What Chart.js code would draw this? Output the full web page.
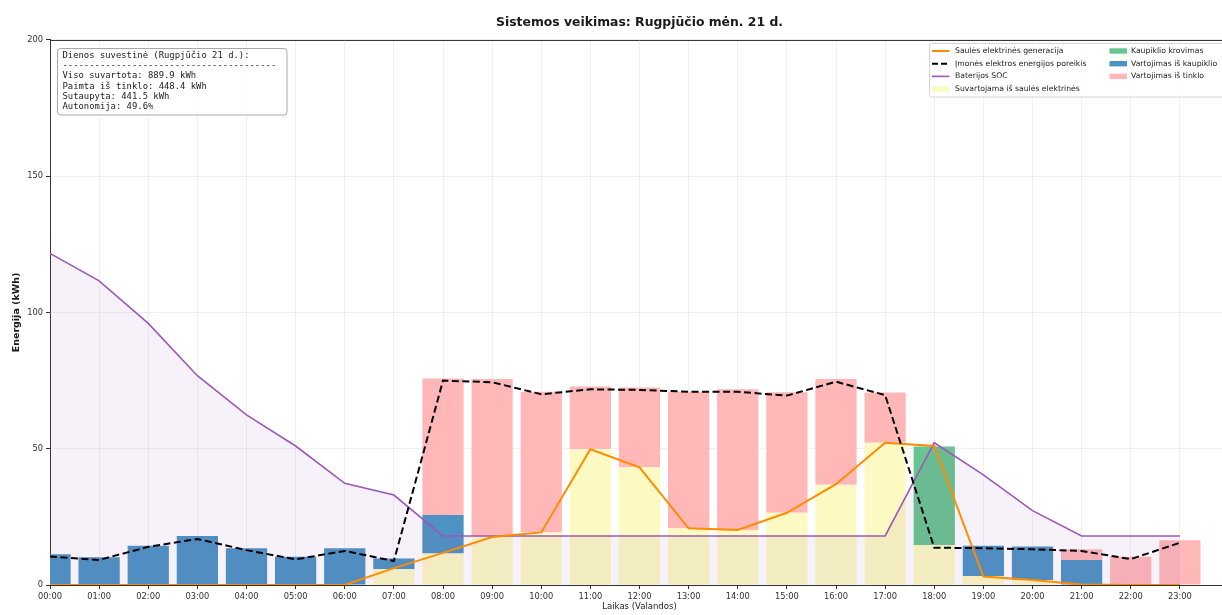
<!DOCTYPE html>
<html>
<head>
<meta charset="utf-8">
<script src="https://cdn.jsdelivr.net/npm/chart.js@4.4.1/dist/chart.umd.min.js"></script>
<style>
html,body{margin:0;padding:0;overflow:hidden;background:#fff;width:1222px;height:615px}
#wrap{position:absolute;left:0;top:0;width:1232px;height:615px}
</style>
</head>
<body>
<div id="wrap"><canvas id="c" width="1232" height="615"></canvas></div>
<script>
// ---- data ----
const hours = ["00:00","01:00","02:00","03:00","04:00","05:00","06:00","07:00","08:00","09:00","10:00","11:00",
               "12:00","13:00","14:00","15:00","16:00","17:00","18:00","19:00","20:00","21:00","22:00","23:00"];
const solarGeneration = [0,0,0,0,0,0,0,6.2,11.8,17.6,19.3,49.8,43.2,20.8,20.2,26.5,37.0,52.2,51.0,3.1,1.8,0.2,0,0];
const demand = [10.5,9.2,14.0,16.9,12.8,9.4,12.5,8.8,75.0,74.4,70.0,71.8,71.6,70.9,70.9,69.5,74.6,69.7,13.7,13.5,13.1,12.5,9.5,15.5];
const batterySOC = [121.7,111.6,96.0,76.8,62.4,51.0,37.3,33.0,18.0,18.0,18.0,18.0,18.0,18.0,18.0,18.0,18.0,18.0,52.2,40.4,27.3,18.0,18.0,18.0];
const solarUsed = [0,0,0,0,0,0,0,5.8,11.6,17.8,19.3,49.8,43.2,20.8,20.2,26.5,36.8,52.2,14.7,3.3,1.8,0,0,0];
const batteryCharge = [0,0,0,0,0,0,0,0,0,0,0,0,0,0,0,0,0,0,36.1,0,0,0,0,0];
const batteryUse = [11.3,10.2,14.4,18.0,13.5,10.4,13.5,3.9,14.1,0,0,0,0,0,0,0,0,0,0,11.1,12.3,9.2,0,0];
const gridUse = [0,0,0,0,0,0,0,0,50.1,57.8,51.6,23.0,29.3,50.1,51.6,44.2,38.8,18.4,0,0,0,3.9,10.4,16.4];
const yTicks = [0,50,100,150,200];
const titleText = "Sistemos veikimas: Rugpjūčio mėn. 21 d.";
const summaryLines = [
  "Dienos suvestinė (Rugpjūčio 21 d.):",
  "----------------------------------------",
  "Viso suvartota: 889.9 kWh",
  "Paimta iš tinklo: 448.4 kWh",
  "Sutaupyta: 441.5 kWh",
  "Autonomija: 49.6%"
];
const legendLabels = {
  solar: "Saulės elektrinės generacija",
  demand: "Įmonės elektros energijos poreikis",
  soc: "Baterijos SOC",
  solarUsed: "Suvartojama iš saulės elektrinės",
  charge: "Kaupiklio krovimas",
  batUse: "Vartojimas iš kaupiklio",
  grid: "Vartojimas iš tinklo"
};

// ---- styles ----
const C = {
  solar: '#ff8c00', demand: '#000000', soc: '#9b59b6', socFill: 'rgba(155,89,182,0.08)',
  solarUsed: '#fcf9c3', charge: '#68c490', batUse: '#4c92c3', grid: '#ffb7b8'
};
const FONT = '"DejaVu Sans", sans-serif';

const pts = arr => arr.map((v, i) => ({x: i, y: v}));

const barBase = {type: 'bar', order: 3, barPercentage: 0.84, categoryPercentage: 1, stack: 'bars', borderWidth: 0, clip: 0};

const data = {
  datasets: [
    Object.assign({}, barBase, {label: legendLabels.solarUsed, data: pts(solarUsed), backgroundColor: C.solarUsed}),
    Object.assign({}, barBase, {label: legendLabels.charge, data: pts(batteryCharge), backgroundColor: C.charge}),
    Object.assign({}, barBase, {label: legendLabels.batUse, data: pts(batteryUse), backgroundColor: C.batUse}),
    Object.assign({}, barBase, {label: legendLabels.grid, data: pts(gridUse), backgroundColor: C.grid}),
    {type: 'line', stack: 'soc', label: legendLabels.soc, data: pts(batterySOC), borderColor: C.soc, borderWidth: 1.6,
     backgroundColor: C.socFill, fill: 'origin', pointRadius: 0, tension: 0, order: 2},
    {type: 'line', stack: 'solar', label: legendLabels.solar, data: pts(solarGeneration), borderColor: C.solar, borderWidth: 2,
     fill: false, pointRadius: 0, tension: 0, order: 1},
    {type: 'line', stack: 'demand', label: legendLabels.demand, data: pts(demand), borderColor: C.demand, borderWidth: 2,
     borderDash: [7, 3.5], fill: false, pointRadius: 0, tension: 0, order: 0}
  ]
};

function roundRect(ctx, x, y, w, h, r) {
  ctx.beginPath();
  ctx.moveTo(x + r, y);
  ctx.lineTo(x + w - r, y); ctx.quadraticCurveTo(x + w, y, x + w, y + r);
  ctx.lineTo(x + w, y + h - r); ctx.quadraticCurveTo(x + w, y + h, x + w - r, y + h);
  ctx.lineTo(x + r, y + h); ctx.quadraticCurveTo(x, y + h, x, y + h - r);
  ctx.lineTo(x, y + r); ctx.quadraticCurveTo(x, y, x + r, y);
  ctx.closePath();
}

const overlay = {
  id: 'overlay',
  afterDraw(chart) {
    const ctx = chart.ctx, a = chart.chartArea;
    ctx.save();
    // top spine
    ctx.strokeStyle = '#333'; ctx.lineWidth = 1;
    ctx.beginPath(); ctx.moveTo(a.left, a.top + 0.5); ctx.lineTo(a.right, a.top + 0.5); ctx.stroke();

    // summary box
    roundRect(ctx, 57.5, 48.5, 229.5, 66.5, 3);
    ctx.fillStyle = 'rgba(255,255,255,0.85)'; ctx.fill();
    ctx.strokeStyle = '#a8a8a8'; ctx.lineWidth = 1; ctx.stroke();
    ctx.fillStyle = '#222';
    ctx.font = '8.9px "DejaVu Sans Mono", monospace';
    ctx.textBaseline = 'middle'; ctx.textAlign = 'left';
    summaryLines.forEach((t, i) => ctx.fillText(t, 62.5, 55.5 + i * 10.3));

    // legend box
    const lx = 929.5, ly = 43.5;
    roundRect(ctx, lx, ly, 300, 53.5, 2.5);
    ctx.fillStyle = 'rgba(255,255,255,0.85)'; ctx.fill();
    ctx.strokeStyle = '#d4d4d4'; ctx.stroke();
    ctx.font = '7.7px ' + FONT;
    const rowY = i => 51 + i * 12.7;
    const col1 = [
      {k: 'line', c: C.solar, t: legendLabels.solar},
      {k: 'dash', c: C.demand, t: legendLabels.demand},
      {k: 'line', c: C.soc, t: legendLabels.soc, w: 1.6},
      {k: 'patch', c: C.solarUsed, t: legendLabels.solarUsed}
    ];
    const col2 = [
      {k: 'patch', c: C.charge, t: legendLabels.charge},
      {k: 'patch', c: C.batUse, t: legendLabels.batUse},
      {k: 'patch', c: C.grid, t: legendLabels.grid}
    ];
    const drawItem = (it, hx, tx, y) => {
      if (it.k === 'patch') {
        ctx.fillStyle = it.c; ctx.fillRect(hx, y - 2.7, 17.5, 5.4);
      } else {
        ctx.strokeStyle = it.c; ctx.lineWidth = it.w || 2;
        ctx.setLineDash(it.k === 'dash' ? [6, 3] : []);
        ctx.beginPath(); ctx.moveTo(hx, y); ctx.lineTo(hx + 17.5, y); ctx.stroke();
        ctx.setLineDash([]);
      }
      ctx.fillStyle = '#222'; ctx.fillText(it.t, tx, y);
    };
    col1.forEach((it, i) => drawItem(it, 932, 955, rowY(i)));
    col2.forEach((it, i) => drawItem(it, 1109.5, 1131, rowY(i)));
    ctx.restore();
  }
};

new Chart(document.getElementById('c'), {
  type: 'bar',
  data,
  options: {
    responsive: false, animation: false, devicePixelRatio: 1,
    layout: {padding: {left: 0, right: 1, top: 0, bottom: 0}},
    plugins: {
      legend: {display: false}, tooltip: {enabled: false},
      title: {display: true, text: titleText, fullSize: false, color: '#1a1a1a',
              font: {family: FONT, size: 12.4, weight: 'bold'}, padding: {top: 15.5, bottom: 9.6}}
    },
    scales: {
      x: {
        type: 'linear', min: 0, max: 24, offset: false, stacked: true,
        grid: {offset: false, color: 'rgba(0,0,0,0.06)', tickColor: '#333', tickLength: 4, drawTicks: true},
        border: {display: true, color: '#333', width: 1},
        ticks: {stepSize: 1, autoSkip: false, maxRotation: 0, padding: 3, color: '#333',
                font: {family: FONT, size: 8.3},
                callback: v => (Number.isInteger(v) && v < hours.length) ? hours[v] : ''},
        title: {display: true, text: 'Laikas (Valandos)', color: '#222',
                font: {family: FONT, size: 8.5}, padding: {top: 0, bottom: 3}},
        afterFit: s => { s.height = 30; }
      },
      y: {
        type: 'linear', min: 0, max: 200, stacked: true,
        afterBuildTicks: s => { s.ticks = yTicks.map(v => ({value: v})); },
        grid: {color: 'rgba(0,0,0,0.06)', tickColor: '#333', tickLength: 4},
        border: {display: true, color: '#333', width: 1},
        ticks: {padding: 3, color: '#333', font: {family: FONT, size: 8.3}},
        title: {display: true, text: 'Energija (kWh)', color: '#1a1a1a',
                font: {family: FONT, size: 9.5, weight: 'bold'}, padding: {top: 11, bottom: 0}},
        afterFit: s => { s.width = 50; }
      }
    }
  },
  plugins: [overlay]
});
</script>
</body>
</html>
